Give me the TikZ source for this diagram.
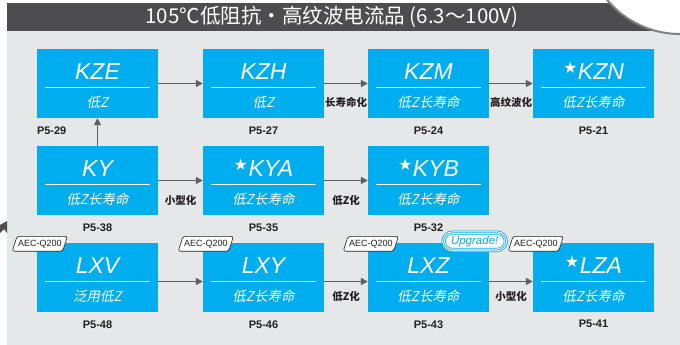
\documentclass[tikz,border=0pt]{standalone}
\usepackage{fontspec}
\setmainfont{Liberation Sans}
\newfontfamily\cjk{Noto Sans CJK SC}
\newfontfamily\cjkit[FakeSlant=0.2]{Noto Sans CJK SC}
\newfontfamily\symf{DejaVu Sans}
\usetikzlibrary{positioning,arrows.meta,shapes.geometric}
\definecolor{boxblue}{HTML}{00AEEF}
\definecolor{panelgray}{HTML}{E6E7E8}
\definecolor{headgray}{HTML}{4D4D4F}
\definecolor{arrowgray}{HTML}{5F5F5F}
\definecolor{txtdark}{HTML}{231F20}
\newcommand{\upstar}{\smash{\raisebox{6pt}{\fontsize{16}{16}\selectfont\upshape\symf ★}}\kern0.5pt}
\begin{document}
\begin{tikzpicture}[x=1pt,y=-1pt,
      series/.style={rectangle, fill=boxblue, minimum width=121pt, minimum height=69pt, inner sep=0pt,
        path picture={\draw[white, line width=1pt]
          ([xshift=8pt,yshift=-3.5pt]path picture bounding box.west) --
          ([xshift=-8pt,yshift=-3.5pt]path picture bounding box.east);}},
      ttl/.style={text=white, inner sep=0pt, font=\fontsize{23}{23}\selectfont\itshape, yshift=11.5pt},
      subt/.style={text=white, inner sep=0pt, font=\fontsize{13.5}{14}\selectfont\cjkit, yshift=-18.5pt},
      page/.style={inner sep=0pt, text=txtdark, font=\fontsize{11}{11}\selectfont\bfseries},
      flow/.style={draw=arrowgray, line width=1.6pt, -{Triangle[length=7pt,width=7pt]}},
      arrlbl/.style={inner sep=0pt, text=txtdark, font=\fontsize{10.5}{11}\selectfont\cjk\bfseries},
      aec/.style={trapezium, trapezium left angle=72, trapezium right angle=108, draw=txtdark, fill=white,
        line width=0.6pt, rounded corners=2.5pt, inner xsep=1pt, inner ysep=3.5pt,
        text=txtdark, font=\fontsize{9}{9}\selectfont},
      upg/.style={rounded corners=9.5pt, fill=white, draw=boxblue, double=white, double distance=0.9pt,
        line width=0.8pt, minimum width=64pt, minimum height=19pt, inner sep=0pt,
        text=boxblue, font=\fontsize{11.5}{12}\selectfont\itshape,
        path picture={\draw[boxblue, line width=0.6pt, rounded corners=7pt]
          ([shift={(2.6pt,2.6pt)}]path picture bounding box.south west) rectangle
          ([shift={(-2.6pt,-2.6pt)}]path picture bounding box.north east);}}
      ]
      \useasboundingbox (0,0) rectangle (680,345);
      % background and header
      \fill[panelgray] (7,31) rectangle (680,345);
      \fill[headgray] (7,3) rectangle (680,31);
      \draw[gray, line width=2pt, fill=white] (680,-61) circle[radius=95pt];
      \fill[headgray] (0,225) -- (7,221) -- (7,233) -- (4,229) -- (0,233) -- cycle;
      \node[text=white, font=\fontsize{20.5}{21}\selectfont\cjk] (head) at (332,17)
        {105℃低阻抗・高纹波电流品 (6.3～100V)};

      % row 1
      \node[series, label={[ttl]center:KZE}, label={[subt]center:低Z}] (kze) at (97.5,83.5) {};
      \node[series, label={[ttl]center:KZH}, label={[subt]center:低Z}] (kzh) at (263.5,83.5) {};
      \node[series, label={[ttl]center:KZM}, label={[subt]center:低Z长寿命}] (kzm) at (428.5,83.5) {};
      \node[series, label={[ttl]center:\upstar KZN}, label={[subt]center:低Z长寿命}] (kzn) at (593.5,83.5) {};
      % row 2
      \node[series, label={[ttl]center:KY}, label={[subt]center:低Z长寿命}] (ky) at (97.5,180.5) {};
      \node[series, label={[ttl]center:\upstar KYA}, label={[subt]center:低Z长寿命}] (kya) at (263.5,180.5) {};
      \node[series, label={[ttl]center:\upstar KYB}, label={[subt]center:低Z长寿命}] (kyb) at (428.5,180.5) {};
      % row 3
      \node[series, label={[ttl]center:LXV}, label={[subt]center:泛用低Z}] (lxv) at (97.5,277.5) {};
      \node[series, label={[ttl]center:LXY}, label={[subt]center:低Z长寿命}] (lxy) at (263.5,277.5) {};
      \node[series, label={[ttl]center:LXZ}, label={[subt]center:低Z长寿命}] (lxz) at (428.5,277.5) {};
      \node[series, label={[ttl]center:\upstar LZA}, label={[subt]center:低Z长寿命}] (lza) at (593.5,277.5) {};

      % page numbers
      \node[page, below right=8pt and 0pt of kze.south west] (p-kze) {P5-29};
      \node[page, below=8pt of kzh] (p-kzh) {P5-27};
      \node[page, below=8pt of kzm] (p-kzm) {P5-24};
      \node[page, below=8pt of kzn] (p-kzn) {P5-21};
      \node[page, below=8pt of ky] (p-ky) {P5-38};
      \node[page, below=8pt of kya] (p-kya) {P5-35};
      \node[page, below=8pt of kyb] (p-kyb) {P5-32};
      \node[page, below=8pt of lxv] (p-lxv) {P5-48};
      \node[page, below=8pt of lxy] (p-lxy) {P5-46};
      \node[page, below=8pt of lxz] (p-lxz) {P5-43};
      \node[page, below=8pt of lza] (p-lza) {P5-41};

      % tags
      \node[aec] (aec-lxv) at ([xshift=3pt,yshift=-1pt]lxv.north west) {AEC-Q200};
      \node[aec] (aec-lxy) at ([xshift=3pt,yshift=-1pt]lxy.north west) {AEC-Q200};
      \node[aec] (aec-lxz) at ([xshift=3pt,yshift=-1pt]lxz.north west) {AEC-Q200};
      \node[aec] (aec-lza) at ([xshift=3pt,yshift=-1pt]lza.north west) {AEC-Q200};
      \node[upg] (upgrade) at ([xshift=-14.5pt,yshift=1.5pt]lxz.north east) {Upgrade!};

      % connections
      \draw[flow] (ky) -- (kze);
      \draw[flow] (kze) -- (kzh);
      \draw[flow] (kzh) -- node[arrlbl, yshift=-19pt] (l-kzm) {长寿命化} (kzm);
      \draw[flow] (kzm) -- node[arrlbl, yshift=-19pt] (l-kzn) {高纹波化} (kzn);
      \draw[flow] (ky) -- node[arrlbl, yshift=-20pt] (l-kya) {小型化} (kya);
      \draw[flow] (kya) -- node[arrlbl, yshift=-20pt] (l-kyb) {低Z化} (kyb);
      \draw[flow] ([yshift=-4pt]lxv.east) -- ([yshift=-4pt]lxy.west);
      \draw[flow] ([yshift=-4pt]lxy.east) -- node[arrlbl, yshift=-15pt] (l-lxz) {低Z化} ([yshift=-4pt]lxz.west);
      \draw[flow] ([yshift=-4pt]lxz.east) -- node[arrlbl, yshift=-15pt] (l-lza) {小型化} ([yshift=-4pt]lza.west);
    \end{tikzpicture}
\end{document}
